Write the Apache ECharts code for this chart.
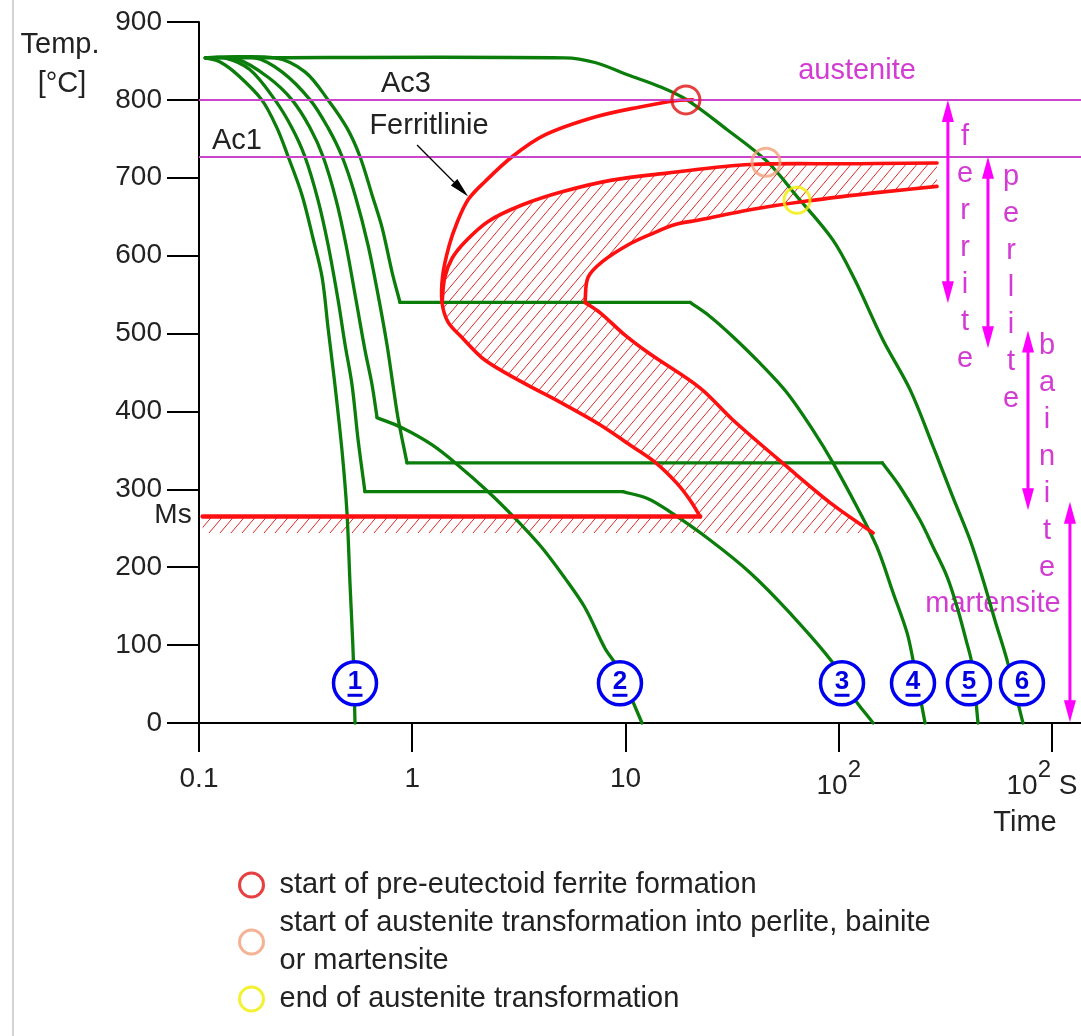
<!DOCTYPE html>
<html><head><meta charset="utf-8">
<script src="https://cdn.jsdelivr.net/npm/echarts@6/dist/echarts.min.js"></script>
<style>html,body{margin:0;padding:0;background:#fff}#c{width:1081px;height:1036px}</style>
</head><body><div id="c"></div>
<script>
const FONT = "'Liberation Sans', Arial, sans-serif";

// ---- axes ----
const timeMin = 0.1, timeMax = 1368;          // s (log scale)
const tempMin = 0, tempMax = 900, tempStep = 100; // °C
const xTickValues = [0.1, 1, 10, 100, 1000];
const xTickLabels = ['0.1', '1', '10', '10²', '10² S'];

// ---- cooling curves [time s, temperature °C] ----
const curve1 = [[0.107,854],[0.125,849],[0.152,832],[0.197,800],[0.232,764],[0.262,727],[0.304,678],[0.342,623],[0.378,572],[0.403,507],[0.434,434],[0.469,348],[0.494,271],[0.511,177],[0.528,91],[0.539,0]];
const curve2 = [[0.107,854],[0.152,852],[0.211,829],[0.273,800],[0.332,764],[0.382,727],[0.439,672],[0.489,614],[0.545,543],[0.600,479],[0.648,434],[0.684,392],[0.895,379],[1.24,357],[1.64,331],[2.27,297],[3.03,263],[4.06,225],[5.20,186],[6.46,148],[8.01,96],[9.22,71],[10.5,36],[11.95,0]];
const curve3 = [[0.107,854],[0.132,854],[0.173,839],[0.227,800],[0.273,764],[0.314,727],[0.361,672],[0.403,614],[0.449,543],[0.484,486],[0.522,434],[0.557,364],[0.600,297],[9.73,297],[12.75,288],[16.2,271],[24.9,235],[38.4,193],[59.1,141],[94.0,77],[117,33],[145,0]];
const curve4 = [[0.107,854],[0.227,854],[0.314,836],[0.403,800],[0.494,764],[0.569,727],[0.648,678],[0.722,636],[0.804,579],[0.876,540],[20.1,540],[24.9,522],[31.9,496],[42.7,462],[57.2,424],[75.7,376],[94.0,334],[122,277],[151,226],[180,167],[209,116],[223,81],[254,0]];
const curve5 = [[0.107,854],[0.183,854],[0.245,836],[0.332,800],[0.403,764],[0.469,727],[0.539,678],[0.620,614],[0.691,550],[0.761,486],[0.812,434],[0.857,392],[0.945,334],[160,334],[194,303],[240,261],[277,226],[322,188],[359,149],[395,107],[422,75],[450,0]];
const curve6 = [[0.107,854],[5.20,854],[7.19,848],[10.3,832],[14.5,817],[19.4,800],[29.9,762],[46.1,721],[63.7,676],[94.0,620],[119,569],[161,492],[216,428],[277,355],[343,290],[413,235],[475,184],[540,132],[615,81],[731,0]];
const curveLabels = ['1','2','3','4','5','6'];
const curveLabelPos = [[0.539,51],[9.42,51],[103.6,51],[223,51],[408,51],[723,51]];

// ---- transformation lines ----
const Ac3 = 800, Ac1 = 727;
const msLine = [[0.104,265],[22.4,265]];
const msHatchLow = 244;
const ferriteLine = [[20.7,800],[17.1,799],[11.7,791],[7.19,778],[4.19,755],[2.94,727],[2.19,695],[1.83,672],[1.62,642],[1.49,613],[1.39,575],[1.38,540],[1.47,515],[1.71,495],[2.19,466],[3.31,437],[4.93,412],[7.59,383],[10.5,357],[13.75,335],[17.4,308],[20.1,286],[22.4,265]];
const perliteStart = [[1.38,540],[1.42,572],[1.54,597],[1.77,618],[2.27,644],[3.27,665],[5.04,682],[8.64,697],[15.7,706],[38.4,717],[113,718],[289,719]];
const perliteEnd = [[289,689],[140,680],[65.8,669],[38.4,659],[22.4,646],[17.1,640],[13.0,627],[10.3,614],[7.76,592],[6.67,572],[6.46,540]];
const bainiteEnd = [[6.46,540],[7.59,527],[9.95,498],[13.0,474],[22.4,430],[31.9,389],[57.2,329],[94.0,280],[145,244]];

// ---- marked transformation points ----
const markerNames = ['start of pre-eutectoid ferrite formation','start of austenite transformation into perlite, bainite\nor martensite','end of austenite transformation'];
const markerValues = [[19.2,800],[45.6,720],[63.7,671]];

// ---- phase ranges (arrows at the right) ----
const phaseNames = ['ferrite','perlite','bainite','martensite'];
const phaseTimes = [325, 501, 772, 1214];
const phaseTop = [800, 727, 504, 284];
const phaseBottom = [539, 481, 273, 1];
const ferritArrow = [[1.053,742],[1.83,676]];

// ---- style config (not data) ----
const GREEN = '#0b7d0b', RED = '#ff1010', MAG = '#ff00ff', MAGTXT = '#d23cd2', MAGLINE = '#cc44cc';
const markerColors = ['#e01010','#f2a07c','#f0ee00'];
const markerSizes = [28, 28, 26];
const curveBreaks = [[], [11], [12,13], [9,10], [12,13], []];

function splitAt(arr, breaks) {
  const segs = []; let s = 0;
  breaks.forEach(b => { segs.push(arr.slice(s, b + 1)); s = b; });
  segs.push(arr.slice(s));
  return segs;
}

// smooth path through pixel points (tangent-based cubic), no M prefix
function chainD(pts) {
  let d = '';
  if (pts.length === 2) return 'L' + pts[1][0] + ',' + pts[1][1];
  const tan = pts.map((p, i) => {
    const a = pts[Math.max(i - 1, 0)], b = pts[Math.min(i + 1, pts.length - 1)];
    const dx = b[0] - a[0], dy = b[1] - a[1]; const L = Math.hypot(dx, dy) || 1;
    return [dx / L, dy / L];
  });
  for (let i = 0; i < pts.length - 1; i++) {
    const p = pts[i], q = pts[i + 1];
    const L = Math.hypot(q[0] - p[0], q[1] - p[1]) / 3;
    d += 'C' + (p[0] + tan[i][0] * L) + ',' + (p[1] + tan[i][1] * L) + ',' +
         (q[0] - tan[i + 1][0] * L) + ',' + (q[1] - tan[i + 1][1] * L) + ',' + q[0] + ',' + q[1];
  }
  return d;
}
function pathD(pts) { return 'M' + pts[0][0] + ',' + pts[0][1] + chainD(pts); }

function makeHatch() {
  const w = 11, h = 13;
  const c = document.createElement('canvas'); c.width = w; c.height = h;
  const g = c.getContext('2d');
  g.strokeStyle = '#dd2a2a'; g.lineWidth = 1;
  g.beginPath();
  for (let k = -1; k <= 1; k++) { g.moveTo(k * w, h); g.lineTo(k * w + w, 0); }
  g.stroke();
  return c;
}
const hatchCanvas = makeHatch();

const noseIdx = ferriteLine.reduce((bi, p, i, a) => p[0] < a[bi][0] ? i : bi, 0);
const hatchChains = [
  perliteStart,
  perliteEnd,
  bainiteEnd,
  [bainiteEnd[bainiteEnd.length - 1], [bainiteEnd[bainiteEnd.length - 1][0], msHatchLow], [msLine[0][0], msHatchLow], msLine[0], msLine[1]],
  ferriteLine.slice(noseIdx).reverse()
];
const straightChains = [false, false, false, true, false];

function curveSeries(pieces, color, width, z) {
  return {
    type: 'custom', z: z, silent: true, data: [pieces[0][0]],
    renderItem: function (params, api) {
      return { type: 'group', children: pieces.map(pc => ({
        type: 'path', shape: { pathData: pathD(pc.map(p => api.coord(p))) },
        style: { fill: null, stroke: color, lineWidth: width, lineJoin: 'round', lineCap: 'round' } })) };
    }
  };
}

const series = [];
// hatched transformation regions
series.push({
  type: 'custom', z: 1, silent: true, data: [perliteStart[0]],
  renderItem: function (params, api) {
    let d = '';
    hatchChains.forEach((ch, ci) => {
      const px = ch.map(p => api.coord(p));
      if (ci === 0) d += 'M' + px[0][0] + ',' + px[0][1];
      else d += 'L' + px[0][0] + ',' + px[0][1];
      if (straightChains[ci]) px.slice(1).forEach(p => { d += 'L' + p[0] + ',' + p[1]; });
      else d += chainD(px);
    });
    d += 'Z';
    return { type: 'path', shape: { pathData: d }, style: { fill: { image: hatchCanvas, repeat: 'repeat' }, stroke: null } };
  }
});
// Ac3 / Ac1
series.push({
  type: 'line', data: [], z: 2, silent: true,
  markLine: { silent: true, symbol: 'none', label: { show: false }, animation: false,
    lineStyle: { color: MAGLINE, width: 2, type: 'solid' },
    data: [{ yAxis: Ac3 }, { yAxis: Ac1 }] }
});
// cooling curves
[curve1, curve2, curve3, curve4, curve5, curve6].forEach((c, ci) => {
  series.push(curveSeries(splitAt(c, curveBreaks[ci]), GREEN, 3.3, 3));
});
// transformation lines
series.push(curveSeries([ferriteLine, perliteStart, perliteEnd, bainiteEnd], RED, 3.6, 4));
series.push(curveSeries([msLine], RED, 4.5, 4));
// phase arrows
series.push({
  type: 'custom', z: 5, silent: true, data: phaseNames.map((n, i) => [phaseTimes[i], phaseTop[i], phaseBottom[i]]),
  renderItem: function (params, api) {
    const t = api.value(0);
    const a = api.coord([t, api.value(1)]), b = api.coord([t, api.value(2)]);
    const L = 22, W = 6;
    return { type: 'group', children: [
      { type: 'line', shape: { x1: a[0], y1: a[1] + 8, x2: b[0], y2: b[1] - 8 }, style: { stroke: MAG, lineWidth: 3 } },
      { type: 'polygon', shape: { points: [[a[0], a[1]], [a[0] - W, a[1] + L], [a[0] + W, a[1] + L]] }, style: { fill: MAG } },
      { type: 'polygon', shape: { points: [[b[0], b[1]], [b[0] - W, b[1] - L], [b[0] + W, b[1] - L]] }, style: { fill: MAG } }
    ] };
  }
});
// Ferritlinie pointer
series.push({
  type: 'custom', z: 5, silent: true, data: [ferritArrow[0]],
  renderItem: function (params, api) {
    const a = api.coord(ferritArrow[0]), b = api.coord(ferritArrow[1]);
    const dx = b[0] - a[0], dy = b[1] - a[1], len = Math.hypot(dx, dy);
    const ux = dx / len, uy = dy / len, L = 20, W = 4.5;
    const bx = b[0] - ux * L, by = b[1] - uy * L;
    return { type: 'group', children: [
      { type: 'line', shape: { x1: a[0], y1: a[1], x2: bx, y2: by }, style: { stroke: '#000', lineWidth: 1.3 } },
      { type: 'polygon', shape: { points: [[b[0], b[1]], [bx - uy * W, by + ux * W], [bx + uy * W, by - ux * W]] }, style: { fill: '#000' } }
    ] };
  }
});
markerNames.forEach((n, i) => {
  series.push({ type: 'scatter', name: n, data: [markerValues[i]], z: 6, silent: true,
    symbol: 'circle', symbolSize: markerSizes[i],
    itemStyle: { color: 'rgba(255,255,255,0)', borderColor: markerColors[i], borderWidth: 3 } });
});
series.push({
  type: 'scatter', z: 7, silent: true, symbol: 'circle', symbolSize: 43,
  itemStyle: { color: '#fff', borderColor: '#0000f0', borderWidth: 3.5, opacity: 1 },
  data: curveLabels.map((l, i) => ({ value: curveLabelPos[i], name: l })),
  label: { show: true, position: 'inside', formatter: p => '{n|' + p.name + '}\n{u|}',
    rich: { n: { fontSize: 26, fontWeight: 'bold', color: '#0000e0', lineHeight: 24, fontFamily: FONT },
            u: { width: 15, height: 3, lineHeight: 3, backgroundColor: '#0000e0' } } }
});

function fmtX(v) {
  const e = Math.log10(v);
  const i = xTickValues.findIndex(t => Math.abs(Math.log10(t) - e) < 1e-6);
  if (i < 0) return '';
  const s = xTickLabels[i];
  if (s.indexOf('²') < 0) return s;
  const parts = s.split('²');
  return '{b|' + parts[0] + '}{s|2}' + (parts[1] ? '{b|' + parts[1] + '}{p|}' : '');
}

const T = (text, x, y, extra) => Object.assign({ type: 'text', x: x, y: y, silent: true,
  style: Object.assign({ text: text, font: '29px ' + FONT, fill: '#222', align: 'center', verticalAlign: 'middle' }, extra || {}) });
const vword = w => w.split('').join('\n');

const option = {
  animation: false,
  backgroundColor: '#fff',
  grid: { left: 199, right: 0, top: 22, bottom: 313, containLabel: false, outerBoundsMode: 'none' },
  xAxis: {
    type: 'log', logBase: 10, min: timeMin, max: timeMax,
    axisLine: { show: true, onZero: false, lineStyle: { color: '#000', width: 2 } },
    axisTick: { show: true, length: 29, lineStyle: { color: '#000', width: 2 }, customValues: xTickValues },
    axisLabel: { show: true, customValues: xTickValues, formatter: fmtX, margin: 42, color: '#222', fontSize: 28, fontFamily: FONT, lineHeight: 28,
      rich: { b: { fontSize: 28, lineHeight: 28, padding: [14, 0, 0, 0], fontFamily: FONT, color: '#222' },
              s: { fontSize: 24, lineHeight: 24, padding: [0, 0, 18, 0], fontFamily: FONT, color: '#222' },
              p: { width: 20 } } },
    splitLine: { show: false }, minorTick: { show: false }
  },
  yAxis: {
    type: 'value', min: tempMin, max: tempMax, interval: tempStep,
    axisLine: { show: true, lineStyle: { color: '#000', width: 2 } },
    axisTick: { show: true, length: 32, lineStyle: { color: '#000', width: 2 } },
    axisLabel: { margin: 37, color: '#222', fontSize: 28, fontFamily: FONT },
    splitLine: { show: false }
  },
  legend: {
    show: true, orient: 'vertical', left: 233, top: 861, itemWidth: 46, itemHeight: 24, itemGap: 0,
    selectedMode: false, data: markerNames,
    itemStyle: { borderWidth: 3 },
    textStyle: { fontSize: 29, lineHeight: 38, color: '#222', fontFamily: FONT }
  },
  graphic: [
    { type: 'line', silent: true, shape: { x1: 13, y1: 0, x2: 13, y2: 1036 }, style: { stroke: '#d4d4d4', lineWidth: 2 } },
    T('Temp.', 60, 45), T('[°C]', 62, 84),
    T('Ac3', 406, 84), T('Ac1', 237, 141), T('Ferritlinie', 429, 126),
    T('Ms', 173, 515, { font: '28px ' + FONT }), T('Time', 1025, 823),
    T('austenite', 857, 71, { fill: MAGTXT }), T('martensite', 993, 604, { fill: MAGTXT }),
    T(vword('ferrite'), 965, 118.5, { fill: MAGTXT, verticalAlign: 'top', lineHeight: 37 }),
    T(vword('perlite'), 1011, 158.5, { fill: MAGTXT, verticalAlign: 'top', lineHeight: 37 }),
    T(vword('bainite'), 1047, 327.5, { fill: MAGTXT, verticalAlign: 'top', lineHeight: 37 })
  ],
  series: series
};

const chart = echarts.init(document.getElementById('c'), null, { renderer: 'canvas' });
chart.setOption(option);
</script></body></html>
